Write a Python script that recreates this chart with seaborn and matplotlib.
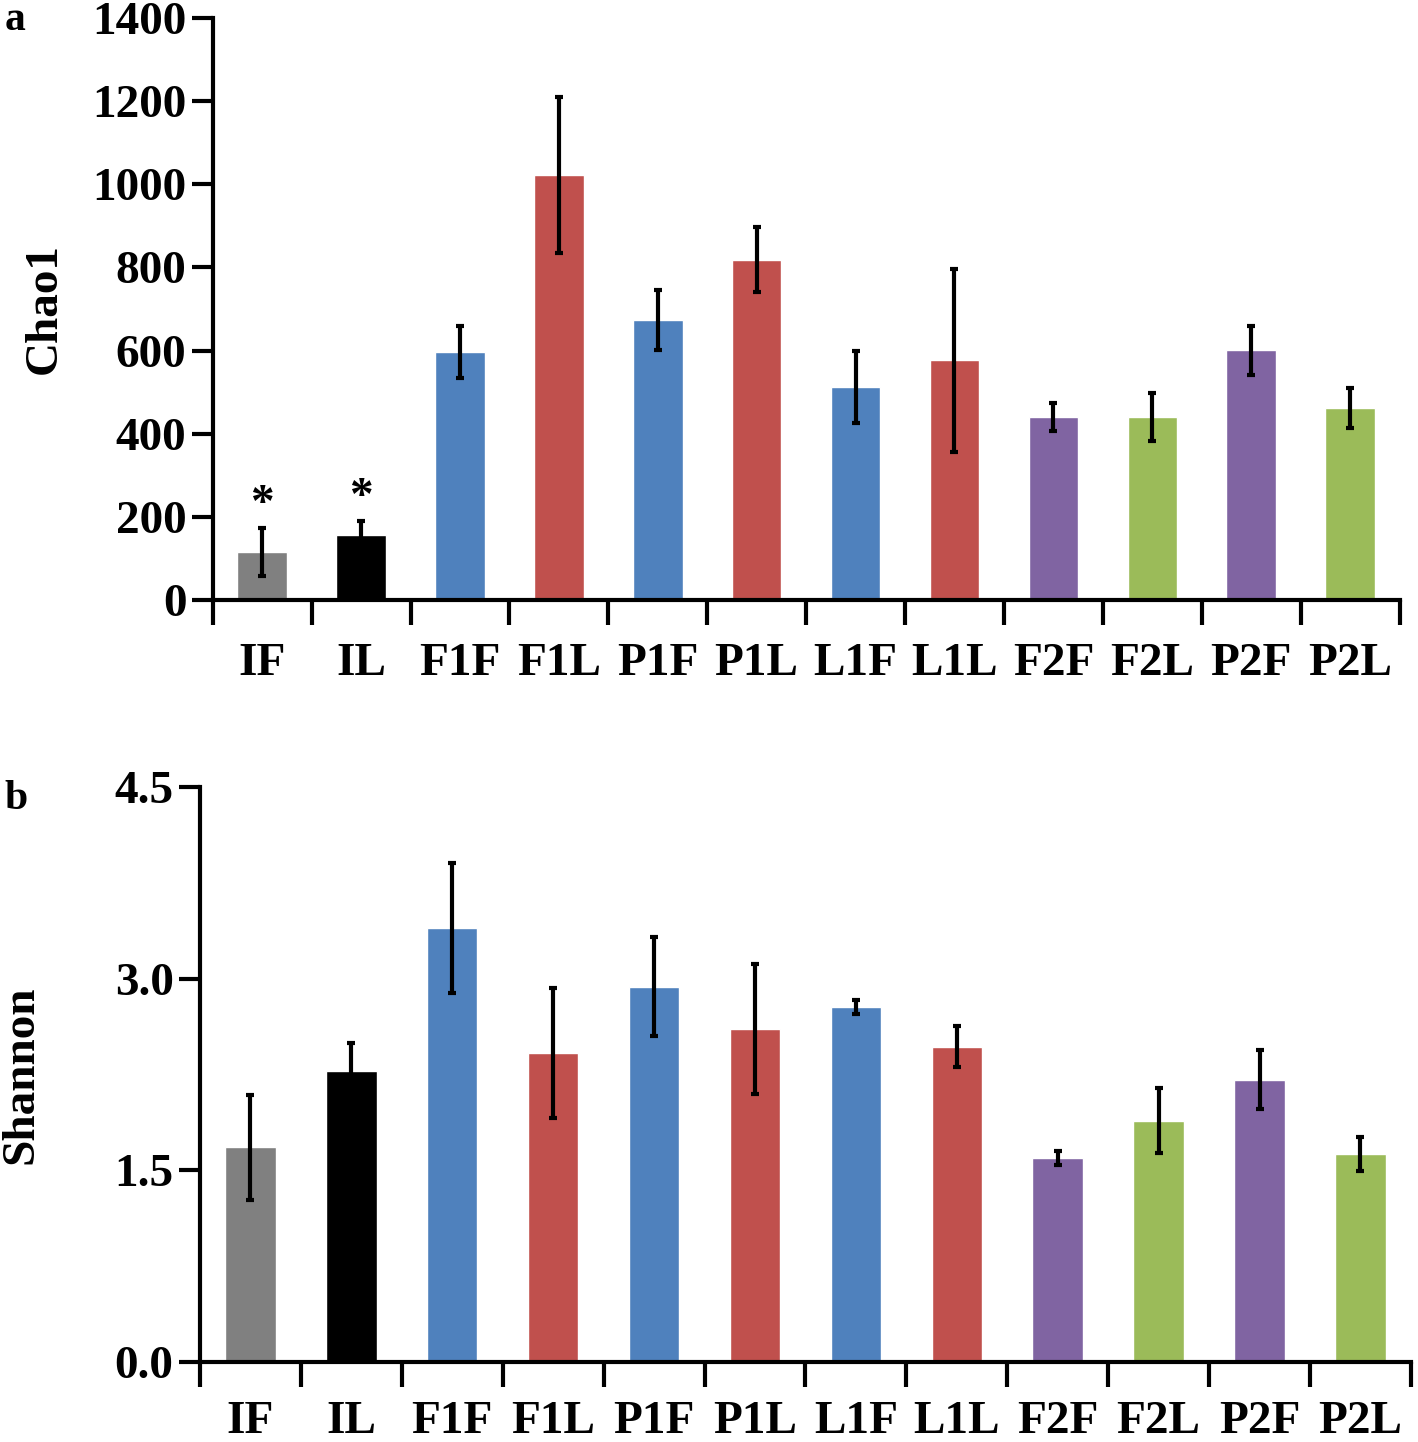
import numpy as np
import pandas as pd
import seaborn as sns
import matplotlib.pyplot as plt

groups = ["IF", "IL", "F1F", "F1L", "P1F", "P1L", "L1F", "L1L", "F2F", "F2L", "P2F", "P2L"]
colors = ["#808080", "#000000", "#4F81BD", "#C0504D", "#4F81BD", "#C0504D",
          "#4F81BD", "#C0504D", "#8064A2", "#9BBB59", "#8064A2", "#9BBB59"]

chao1 = [115, 156, 597, 1022, 674, 818, 512, 577, 440, 440, 601, 462]
chao1_err = [58, 34, 62, 188, 72, 78, 86, 220, 34, 58, 59, 48]
shannon = [1.68, 2.28, 3.40, 2.42, 2.94, 2.61, 2.78, 2.47, 1.60, 1.89, 2.21, 1.63]
shannon_err = [0.41, 0.22, 0.51, 0.51, 0.39, 0.51, 0.055, 0.16, 0.055, 0.255, 0.23, 0.135]
stars = ["*", "*", "", "", "", "", "", "", "", "", "", ""]

sns.set_style("ticks")
plt.rcParams["font.family"] = ["Liberation Serif", "DejaVu Serif"]
plt.rcParams["font.weight"] = "bold"
for k in ["text.color", "axes.labelcolor", "xtick.color", "ytick.color", "axes.edgecolor"]:
    plt.rcParams[k] = "black"

FS = 34

fig = plt.figure(figsize=(14.18, 14.42), dpi=100)
ax1 = fig.add_axes([0.150, 0.584, 0.837, 0.4035])
ax2 = fig.add_axes([0.141, 0.0555, 0.854, 0.3985])

df = pd.DataFrame({"group": groups, "chao1": chao1, "shannon": shannon})


def draw(ax, col, err, ymax, yticks, ylabel, fmt, xpad):
    sns.barplot(data=df, x="group", y=col, hue="group", palette=colors,
                legend=False, width=0.5, saturation=1, ax=ax)
    ax.errorbar(np.arange(len(groups)), df[col], yerr=err, fmt="none",
                ecolor="black", elinewidth=3, capsize=3, capthick=3, zorder=5)
    ax.set_xlim(-0.5, len(groups) - 0.5)
    ax.set_ylim(0, ymax)
    ax.set_yticks(yticks)
    ax.set_yticklabels([fmt.format(v) for v in yticks], fontsize=FS, fontweight="bold")
    ax.set_xticks(np.arange(len(groups)))
    ax.set_xticklabels(groups, fontsize=FS, fontweight="bold")
    ax.set_xticks(np.arange(-0.5, len(groups), 1), minor=True)
    ax.tick_params(axis="x", which="major", length=0, pad=xpad)
    ax.tick_params(axis="x", which="minor", length=18, width=3, direction="out")
    ax.tick_params(axis="y", length=15, width=3, direction="out", pad=4)
    ax.set_xlabel("")
    ax.set_ylabel(ylabel, fontsize=FS, fontweight="bold")
    sns.despine(ax=ax)
    for s in ["left", "bottom"]:
        ax.spines[s].set_linewidth(3)


draw(ax1, "chao1", chao1_err, 1400, [0, 200, 400, 600, 800, 1000, 1200, 1400], "Chao1", "{:.0f}", 31)
draw(ax2, "shannon", shannon_err, 4.5, [0.0, 1.5, 3.0, 4.5], "Shannon", "{:.1f}", 28)
ax1.yaxis.set_label_coords(-0.124, 0.5)
ax2.yaxis.set_label_coords(-0.130, 0.5)

for i, s in enumerate(stars):
    if s:
        ax1.text(i, chao1[i] + chao1_err[i] + 5, s, ha="center", va="bottom",
                 fontsize=FS, fontweight="bold")

fig.text(0.003, 0.986, "a", fontsize=30, fontweight="bold", va="center")
fig.text(0.003, 0.446, "b", fontsize=30, fontweight="bold", va="center")

fig.savefig("out.png", dpi=100)
